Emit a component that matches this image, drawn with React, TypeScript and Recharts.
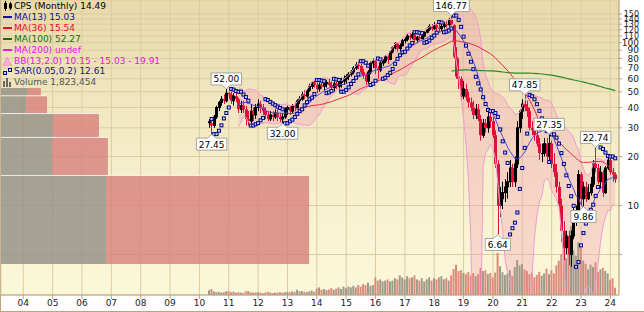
import React from 'react';
import {
  ComposedChart,
  XAxis,
  YAxis,
  CartesianGrid,
  Bar,
  Line,
  Area,
  Scatter,
  ReferenceArea,
  ReferenceLine,
  ReferenceDot,
  Cell,
} from 'recharts';

// monthly candles from May 2010 to Mar 2024, t = months since Jan 2004
const firstT = 76;

const opens = [
  33, 32, 31, 35, 40, 43, 45, 44,
  49, 48, 44, 47, 45, 39, 41, 39, 34, 33, 38, 36,
  40, 42, 40, 38, 36, 34, 36, 35, 37, 35, 34, 35,
  39, 40, 38, 41, 40, 44, 45, 48, 47, 51, 54, 57,
  55, 52, 55, 54, 56, 57, 55, 53, 56, 54, 57, 58,
  60, 62, 64, 66, 70, 73, 72, 66, 63, 58, 66, 75,
  77, 70, 68, 75, 77, 82, 79, 88, 93, 99, 92, 96,
  103, 105, 110, 108, 112, 104, 108, 106, 110, 116, 121, 126,
  122, 128, 124, 122, 126, 130, 129, 138, 128, 82, 62, 60,
  47, 52, 46, 43, 40, 36, 39, 34, 27, 32, 30, 35,
  33, 27, 18, 10, 11, 12, 13, 14, 17, 14, 18, 30,
  38, 42, 40, 38, 30, 29, 27, 24, 21, 21, 24, 20,
  24, 18, 16, 13, 10, 7, 5.5, 6.5, 5, 6.5, 8.5, 9,
  15.5, 11, 13, 11, 12, 13.5, 18, 17, 14, 16, 12, 17,
  19, 16, 15.5,
];

const highs = [
  34, 33, 36, 41, 44, 47, 48, 52,
  50, 50, 49, 50, 46, 44, 44, 41, 38, 42, 40, 42,
  45, 44, 42, 40, 38, 38, 38, 39, 39, 37, 37, 40,
  41, 41, 42, 43, 45, 47, 50, 51, 52, 56, 58, 59,
  57, 57, 58, 58, 59, 60, 58, 58, 59, 59, 61, 63,
  64, 66, 68, 72, 76, 77, 74, 69, 65, 68, 77, 80,
  79, 72, 77, 79, 84, 84, 90, 95, 101, 100, 99, 106,
  108, 113, 114, 116, 114, 110, 112, 113, 118, 124, 130, 130,
  134, 132, 130, 130, 134, 136, 142, 146.77, 130, 94, 80, 62,
  58, 56, 50, 46, 44, 42, 42, 36, 34, 34, 38, 37,
  35, 29, 19, 13, 14, 14.5, 16, 19, 18, 20, 33, 39,
  45, 47.85, 44, 40, 33, 32, 29, 26, 24, 26, 26, 27.35,
  25, 21, 18, 14, 11, 8, 7, 7, 7, 9.8, 10, 16.5,
  16, 14, 14, 13.5, 15, 19, 22.74, 18, 17.5, 16.5, 17.5, 20,
  19.5, 17, 16,
];

const lows = [
  30, 27.45, 30, 34, 38, 41, 42, 43,
  45, 42, 41, 43, 37, 37, 37, 31, 31, 32, 33, 34,
  38, 37, 36, 34, 33, 33, 33, 34, 33, 32.5, 32, 34,
  36, 36, 37, 38, 39, 42, 44, 45, 46, 50, 52, 53,
  49, 50, 52, 51, 53, 54, 51, 50, 52, 50, 53, 55,
  56, 59, 62, 64, 68, 69, 64, 60, 55, 56, 64, 70,
  64, 60, 66, 72, 75, 74, 78, 86, 91, 88, 88, 95,
  99, 102, 104, 105, 100, 100, 103, 104, 108, 114, 118, 118,
  120, 118, 116, 118, 122, 124, 126, 128, 80, 60, 52, 44,
  45, 44, 40, 38, 34, 34, 33, 25, 26, 28, 28, 30,
  26, 17, 6.64, 8.5, 9.5, 10.5, 11, 13, 13, 13, 17, 28,
  34, 38, 35, 29, 27, 25, 23, 19, 18.5, 20, 19, 19,
  17, 15, 12, 9, 6, 4.6, 5, 4.3, 4.2, 6.2, 7.5, 8.5,
  10, 9.86, 10.5, 10.8, 11.5, 13, 16, 13.5, 12.8, 11.3, 11.8, 16.5,
  15.5, 14, 13.8,
];

const closes = [
  32, 31, 35, 40, 43, 45, 44, 49,
  48, 44, 47, 45, 39, 41, 39, 34, 33, 38, 36, 40,
  42, 40, 38, 36, 34, 36, 35, 37, 35, 34, 35, 39,
  40, 38, 41, 40, 44, 45, 48, 47, 51, 54, 57, 55,
  52, 55, 54, 56, 57, 55, 53, 56, 54, 57, 58, 60,
  62, 64, 66, 70, 73, 72, 66, 63, 58, 66, 75, 77,
  70, 68, 75, 77, 82, 79, 88, 93, 99, 92, 96, 103,
  105, 110, 108, 112, 104, 108, 106, 110, 116, 121, 126, 122,
  128, 124, 122, 126, 130, 129, 138, 130, 82, 62, 60, 47,
  52, 46, 43, 40, 36, 39, 34, 27, 32, 30, 35, 33,
  27, 18, 10, 11, 12, 13, 14, 17, 14, 18, 30, 38,
  42, 40, 38, 30, 29, 27, 24, 21, 21, 24, 20, 24,
  18, 16, 13, 10, 7, 5.5, 6.5, 5, 6.5, 8.5, 9, 15.5,
  11, 13, 11, 12, 13.5, 18, 17, 14, 16, 12, 17, 19,
  16, 15.5, 14.49,
];

// millions of shares
const volumes = [
  1.2, 1.5, 0.9, 0.7, 0.8, 0.6, 0.7, 0.9,
  1.0, 0.7, 0.8, 0.6, 0.7, 0.6, 0.5, 0.9, 1.0, 0.7, 0.6, 0.6,
  0.7, 0.6, 0.5, 0.6, 0.8, 0.6, 0.5, 0.6, 0.6, 0.7, 0.6, 0.7,
  0.8, 0.7, 0.9, 0.8, 1.3, 0.9, 1.0, 0.8, 0.7, 0.9, 1.1, 0.8,
  1.6, 1.9, 1.3, 1.5, 1.2, 1.4, 1.7, 1.3, 1.6, 1.9, 1.5, 2.1,
  1.7, 2.1, 1.9, 2.3, 1.9, 2.5, 2.1, 2.7, 2.5, 3.1, 2.3, 2.5,
  4.4, 3.6, 3.9, 3.4, 3.6, 3.9, 3.4, 3.6, 4.2, 3.9, 4.9, 4.4,
  3.9, 4.7, 4.2, 4.4, 4.9, 3.9, 3.6, 4.2, 3.4, 3.9, 4.4, 3.6,
  4.2, 3.9, 4.4, 4.7, 3.9, 4.2, 3.6, 4.9, 6.5, 7.6, 6.0, 6.2,
  5.5, 5.2, 5.7, 4.9, 5.5, 4.7, 5.2, 6.8, 6.0, 6.2, 5.2, 5.5,
  4.4, 5.6, 10.5, 7.2, 5.7, 5.0, 5.4, 6.2, 4.8, 7.0, 8.7, 7.4,
  7.7, 6.4, 6.0, 5.2, 5.6, 4.4, 5.0, 5.8, 4.8, 5.4, 6.6, 5.2,
  6.2, 5.4, 7.4, 8.6, 10.2, 14.2, 9.2, 12.2, 17.2, 11.2, 9.8, 13.2,
  12.2, 8.6, 7.8, 6.4, 7.6, 7.0, 8.2, 5.8, 6.4, 6.8, 6.0, 5.4,
  3.8, 4.2, 1.82,
];

const yearLabels = ['04', '05', '06', '07', '08', '09', '10', '11', '12', '13', '14', '15', '16', '17', '18', '19', '20', '21', '22', '23', '24'];
const priceTicks = [5, 10, 20, 30, 40, 50, 60, 70, 80, 90, 100, 110, 120, 130, 140, 150];

// volume by price zones
const vbpLow = [4.37, 15.3, 26.2, 36.7, 47.2];
const vbpHigh = [15.3, 26.2, 36.7, 47.2, 52.7];
const vbpUp = [340, 165, 168, 81, 87];
const vbpTotal = [997, 346, 317, 149, 129];

// boxed high / low notes
const noteT = [175, 83, 77, 106, 205, 215, 194, 234, 229];
const notePrice = [146.77, 52.0, 27.45, 32.0, 47.85, 27.35, 6.64, 22.74, 9.86];
const noteAbove = [true, true, false, false, true, true, false, true, false];

const FONT = '"DejaVu Sans", Verdana, sans-serif';

function sma(arr: number[], n: number) {
  return arr.map((_, i) => {
    if (i < n - 1) return null;
    let s = 0;
    for (let k = i - n + 1; k <= i; k++) s += arr[k];
    return s / n;
  });
}

function stdev(arr: number[], n: number) {
  const m = sma(arr, n);
  return arr.map((_, i) => {
    if (m[i] == null) return null;
    let s = 0;
    for (let k = i - n + 1; k <= i; k++) s += (arr[k] - (m[i] as number)) ** 2;
    return Math.sqrt(s / n);
  });
}

function psar(h: number[], l: number[], step = 0.05, max = 0.2) {
  const out: (number | null)[] = [null];
  let up = true;
  let af = step;
  let ep = h[0];
  let sar = l[0];
  for (let i = 1; i < h.length; i++) {
    sar = sar + af * (ep - sar);
    if (up) {
      sar = Math.min(sar, l[i - 1], l[Math.max(i - 2, 0)]);
      if (l[i] < sar) {
        up = false;
        sar = Math.max(ep, h[i]);
        ep = l[i];
        af = step;
      } else if (h[i] > ep) {
        ep = h[i];
        af = Math.min(af + step, max);
      }
    } else {
      sar = Math.max(sar, h[i - 1], h[Math.max(i - 2, 0)]);
      if (h[i] > sar) {
        up = true;
        sar = Math.min(ep, l[i]);
        ep = h[i];
        af = step;
      } else if (l[i] < ep) {
        ep = l[i];
        af = Math.min(af + step, max);
      }
    }
    out.push(sar);
  }
  return out;
}

const ma13 = sma(closes, 13);
const ma36 = sma(closes, 36);
const ma100 = sma(closes, 100);
const sd13 = stdev(closes, 13);
const sar = psar(highs, lows);

const rows = closes.map((c, i) => {
  const up = ma13[i] != null ? (ma13[i] as number) + 2 * (sd13[i] as number) : null;
  const lo = ma13[i] != null ? Math.max((ma13[i] as number) - 2 * (sd13[i] as number), 0.5) : null;
  return {
    t: firstT + i,
    o: opens[i],
    h: highs[i],
    l: lows[i],
    c,
    pc: i > 0 ? closes[i - 1] : null,
    range: [lows[i], highs[i]],
    vol: volumes[i],
    ma13: ma13[i],
    ma36: ma36[i],
    ma100: ma100[i],
    bbU: up,
    bbL: lo,
    bb: up != null ? [lo, up] : null,
  };
});

const sarData = rows
  .map((r, i) => ({ t: r.t, sar: sar[i] }))
  .filter((d) => d.sar != null);

const tMin = -9.12;
const tMax = 243.54;

const Candle = (props: any) => {
  const { x, y, width, height, payload } = props;
  const { o, h, l, c, pc } = payload;
  const lh = Math.log(h);
  const ll = Math.log(l);
  const yv = (v: number) => y + (height * (lh - Math.log(v))) / (lh - ll || 1);
  const cx = Math.round(x + width / 2) + 0.5;
  const color = pc != null && c < pc ? '#e0103c' : '#000000';
  const top = yv(Math.max(o, c));
  const bot = yv(Math.min(o, c));
  const hollow = c > o;
  return (
    <g>
      <line x1={cx} x2={cx} y1={y} y2={y + height} stroke={color} strokeWidth={1} />
      {hollow ? (
        <rect x={cx - 1} y={top} width={2} height={Math.max(bot - top, 1)} fill="none" stroke={color} strokeWidth={1} />
      ) : (
        <rect x={cx - 1.5} y={top} width={3} height={Math.max(bot - top, 1)} fill={color} />
      )}
    </g>
  );
};

const SarDot = (props: any) => {
  const { cx, cy } = props;
  if (cx == null || cy == null || isNaN(cy)) return null;
  return <rect x={cx - 1.5} y={cy - 1.5} width={3} height={3} fill="#c8d0f8" stroke="#00008b" strokeWidth={1} />;
};

const Note = (props: any) => {
  const { cx, cy, text, above } = props;
  const w = text.length * 5.3 + 4;
  const hgt = 12;
  const tip = 4;
  const x0 = cx - w / 2;
  const x1 = cx + w / 2;
  let d: string;
  let ty: number;
  if (above) {
    const yb = cy - tip;
    const yt = yb - hgt;
    d = `M${x0},${yt} H${x1} V${yb} H${cx + 4} L${cx},${cy} L${cx - 4},${yb} H${x0} Z`;
    ty = yt + 9.5;
  } else {
    const yt = cy + tip;
    const yb = yt + hgt;
    d = `M${x0},${yt} H${cx - 4} L${cx},${cy} L${cx + 4},${yt} H${x1} V${yb} H${x0} Z`;
    ty = yt + 9.5;
  }
  return (
    <g>
      <path d={d} fill="#ffffff" stroke="#a8a49c" strokeWidth={1} />
      <text x={cx} y={ty} textAnchor="middle" fontSize={9} fontFamily={FONT} fill="#000">
        {text}
      </text>
    </g>
  );
};

const XTick = (props: any) => {
  const { x, y, payload } = props;
  const idx = Math.round(payload.value / 12);
  return (
    <text x={x} y={y} dy="0.71em" textAnchor="middle" fontSize={9} fontFamily={FONT} fill="#222">
      {yearLabels[idx]}
    </text>
  );
};

const YTick = (props: any) => {
  const { x, y, payload } = props;
  if (payload.value === 5) return null;
  const crowded = payload.value > 100;
  return (
    <text x={x + 17} y={y} dy="0.35em" textAnchor="end" fontSize={crowded ? 8 : 9} fontFamily={FONT} fill="#222">
      {payload.value}
    </text>
  );
};

const legendRows = [
  { text: 'CPS (Monthly) 14.49', color: '#000000', icon: 'candle' },
  { text: 'MA(13) 15.03', color: '#10109a', icon: 'line', iconColor: '#10109a' },
  { text: 'MA(36) 15.54', color: '#e0102a', icon: 'line', iconColor: '#e0102a' },
  { text: 'MA(100) 52.27', color: '#107010', icon: 'line', iconColor: '#107010' },
  { text: 'MA(200) undef', color: '#f010f0', icon: 'line', iconColor: '#f010f0' },
  { text: 'BB(13,2.0) 10.15 - 15.03 - 19.91', color: '#e020e0', icon: 'bb' },
  { text: 'SAR(0.05,0.2) 12.61', color: '#10109a', icon: 'sar' },
  { text: 'Volume 1,823,454', color: '#555555', icon: 'vol' },
];

function LegendIcon({ kind, color }: { kind: string; color?: string }) {
  if (kind === 'candle')
    return (
      <svg width={11} height={10}>
        <line x1={3.5} x2={3.5} y1={0} y2={10} stroke="#000" />
        <rect x={2} y={2} width={3} height={6} fill="#000" />
        <line x1={8.5} x2={8.5} y1={1} y2={9} stroke="#000" />
        <rect x={7.5} y={3} width={2} height={4} fill="none" stroke="#000" />
      </svg>
    );
  if (kind === 'line')
    return (
      <svg width={11} height={10}>
        <rect x={1} y={4} width={9} height={2} fill={color} />
      </svg>
    );
  if (kind === 'bb')
    return (
      <svg width={11} height={10}>
        <path d="M1,10 L5,1 L10,10 Z" fill="#f7b0d8" stroke="#f090d0" />
      </svg>
    );
  if (kind === 'sar')
    return (
      <svg width={11} height={10}>
        <rect x={1.5} y={5.5} width={3} height={3} fill="#c8d0f8" stroke="#00008b" />
        <rect x={6.5} y={2.5} width={3} height={3} fill="#c8d0f8" stroke="#00008b" />
      </svg>
    );
  return (
    <svg width={11} height={10}>
      <rect x={1} y={4} width={2} height={6} fill="#666" />
      <rect x={4} y={1} width={2} height={9} fill="#666" />
      <rect x={7} y={5} width={2} height={5} fill="#666" />
    </svg>
  );
}

export default function App() {
  return (
    <div style={{ position: 'absolute', left: 0, top: 0, width: 644, height: 312, background: '#ffffff', overflow: 'hidden' }}>
      <div
        style={{
          position: 'absolute',
          left: 1,
          top: 0,
          width: 618,
          height: 295,
          background: 'linear-gradient(#e9d9ab, #f5eecb 55%, #fbf8da)',
        }}
      />
      <div style={{ position: 'absolute', left: 0, top: 0, width: 1, height: 312, background: '#b9a583' }} />
      <div style={{ position: 'absolute', left: 0, top: 311, width: 644, height: 1, background: '#b9a583' }} />
      <div style={{ position: 'absolute', left: 0, top: 0 }}>
        <ComposedChart width={644} height={312} data={rows} margin={{ top: 0, right: 0, bottom: 0, left: 1 }}>
          <XAxis
            xAxisId="time"
            dataKey="t"
            type="number"
            domain={[tMin, tMax]}
            allowDataOverflow
            ticks={yearLabels.map((_, i) => i * 12)}
            interval={0}
            height={17}
            tick={<XTick />}
            tickSize={4}
            tickMargin={1}
            tickLine={{ stroke: '#b9a583' }}
            axisLine={{ stroke: '#b9a583' }}
          />
          <XAxis xAxisId="vtime" dataKey="t" type="number" domain={[tMin, tMax]} allowDataOverflow hide />
          <XAxis xAxisId="vbp" dataKey="vol" type="number" domain={[0, 2000]} allowDataOverflow hide />
          <YAxis
            yAxisId="price"
            orientation="right"
            scale="log"
            type="number"
            domain={[2.82, 183]}
            allowDataOverflow
            ticks={priceTicks}
            interval={0}
            width={25}
            tick={<YTick />}
            tickSize={3}
            tickMargin={0}
            tickLine={{ stroke: '#b9a583' }}
            axisLine={{ stroke: '#b9a583' }}
          />
          <YAxis yAxisId="vol" type="number" domain={[0, 73.75]} allowDataOverflow hide />
          <CartesianGrid xAxisId="time" yAxisId="price" stroke="#dccca2" strokeWidth={1} />

          {vbpLow.map((lo, i) => (
            <ReferenceArea
              key={`vr${i}`}
              xAxisId="vbp"
              yAxisId="price"
              x1={vbpUp[i]}
              x2={vbpTotal[i]}
              y1={lo}
              y2={vbpHigh[i]}
              fill="#d7807c"
              fillOpacity={0.8}
              stroke="none"
              ifOverflow="visible"
            />
          ))}
          {vbpLow.map((lo, i) => (
            <ReferenceArea
              key={`vg${i}`}
              xAxisId="vbp"
              yAxisId="price"
              x1={0}
              x2={vbpUp[i]}
              y1={lo}
              y2={vbpHigh[i]}
              fill="#918f84"
              fillOpacity={0.8}
              stroke="none"
              ifOverflow="visible"
            />
          ))}
          {vbpHigh.slice(0, -1).map((hi, i) => (
            <ReferenceLine
              key={`vs${i}`}
              xAxisId="vbp"
              yAxisId="price"
              segment={[
                { x: 0, y: hi },
                { x: Math.max(vbpTotal[i], vbpTotal[i + 1]), y: hi },
              ]}
              stroke="#ffffff"
              strokeOpacity={0.75}
              strokeWidth={1}
              ifOverflow="visible"
            />
          ))}

          <Bar xAxisId="vtime" yAxisId="vol" dataKey="vol" barSize={2} isAnimationActive={false}>
            {rows.map((r, i) => (
              <Cell key={i} fill={r.pc != null && r.c < r.pc ? '#e08a7e' : '#9f9b8a'} />
            ))}
          </Bar>

          <Area
            xAxisId="time"
            yAxisId="price"
            dataKey="bb"
            type="linear"
            fill="#f4a0b4"
            fillOpacity={0.35}
            stroke="none"
            isAnimationActive={false}
          />
          <Line xAxisId="time" yAxisId="price" dataKey="bbU" type="linear" stroke="#f29ad6" strokeWidth={1} dot={false} isAnimationActive={false} />
          <Line xAxisId="time" yAxisId="price" dataKey="bbL" type="linear" stroke="#f29ad6" strokeWidth={1} dot={false} isAnimationActive={false} />

          <Bar xAxisId="time" yAxisId="price" dataKey="range" barSize={2} shape={<Candle />} isAnimationActive={false} />

          <Line xAxisId="time" yAxisId="price" dataKey="ma100" type="linear" stroke="#2a8a2a" strokeWidth={1.2} dot={false} isAnimationActive={false} />
          <Line xAxisId="time" yAxisId="price" dataKey="ma36" type="linear" stroke="#e62846" strokeWidth={1} dot={false} isAnimationActive={false} />
          <Line xAxisId="time" yAxisId="price" dataKey="ma13" type="linear" stroke="#4a4ad8" strokeWidth={1} dot={false} isAnimationActive={false} />

          <Scatter xAxisId="time" yAxisId="price" data={sarData} dataKey="sar" shape={<SarDot />} isAnimationActive={false} />

          {noteT.map((t, i) => (
            <ReferenceDot
              key={`n${i}`}
              xAxisId="time"
              yAxisId="price"
              x={t}
              y={notePrice[i]}
              r={0}
              ifOverflow="visible"
              shape={(p: any) => <Note {...p} text={notePrice[i].toFixed(2)} above={noteAbove[i]} />}
            />
          ))}
        </ComposedChart>
      </div>
      {legendRows.map((r, i) => (
        <div
          key={i}
          style={{
            position: 'absolute',
            left: 2,
            top: 1 + i * 10.9,
            height: 10,
            display: 'flex',
            alignItems: 'center',
            fontFamily: FONT,
            fontSize: 9,
            lineHeight: '10px',
            color: r.color,
            whiteSpace: 'nowrap',
          }}
        >
          <LegendIcon kind={r.icon} color={r.iconColor} />
          <span style={{ marginLeft: 1 }}>{r.text}</span>
        </div>
      ))}
    </div>
  );
}
